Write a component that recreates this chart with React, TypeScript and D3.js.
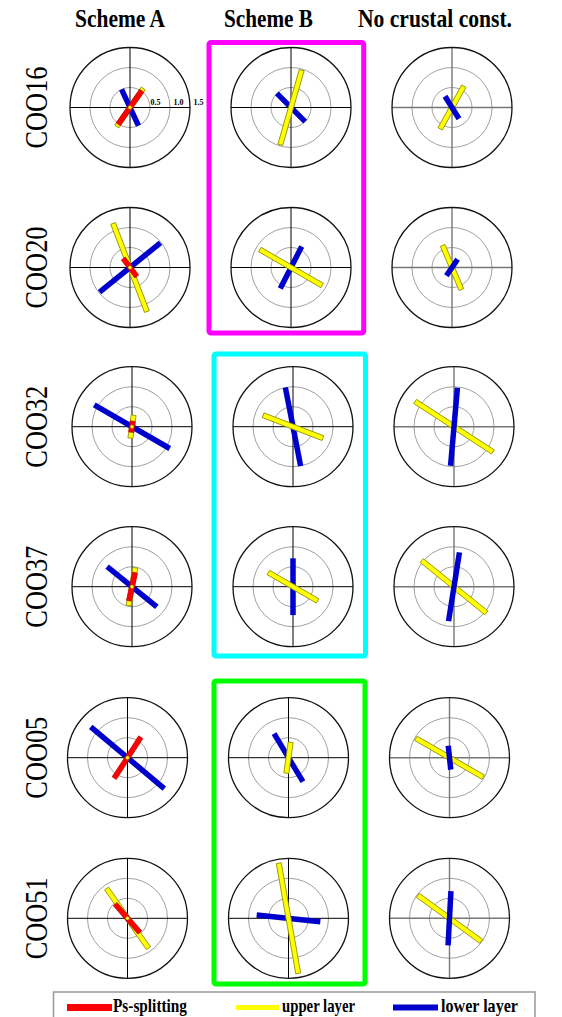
import React from "react";
import * as d3 from "d3";

// Station names (rows) and scheme titles (columns)
const stations = ["COO16", "COO20", "COO32", "COO37", "COO05", "COO51"];
const schemes = ["Scheme A", "Scheme B", "No crustal const."];
const ringTicks = [0.5, 1.0, 1.5];
const ringTickLabels = ["0.5", "1.0", "1.5"];

// Scheme A: Ps-splitting, upper layer and lower layer (fast direction deg from N, delay time s)
const aPsPhi = [35, 143, 8, 12, 33, 139];
const aPsDt = [0.51, 0.28, 0.14, 0.36, 0.61, 0.47];
const aUpperPhi: (number | null)[] = [35, 159, 8, 10, null, 145];
const aUpperDt: (number | null)[] = [0.58, 1.18, 0.29, 0.48, null, 0.91];
const aLowerPhi = [155, 51, 120, 129, 130, 60];
const aLowerDt = [0.5, 0.98, 1.09, 0.8, 1.2, 0.06];

// Scheme B
const bUpperPhi = [16, 120, 111, 120, 8, 170];
const bUpperDt = [0.97, 0.9, 0.8, 0.71, 0.39, 1.4];
const bLowerPhi = [135, 27, 169, 0, 149, 96];
const bLowerDt = [0.5, 0.59, 1.0, 0.71, 0.7, 0.8];

// No crustal constraint
const cUpperPhi = [29, 157, 123, 129, 120, 126];
const cUpperDt = [0.61, 0.6, 1.16, 1.04, 0.97, 0.98];
const cLowerPhi = [148, 34, 5, 9, 174, 3];
const cLowerDt = [0.33, 0.25, 0.98, 0.87, 0.3, 0.68];

const legendLabels = ["Ps-splitting", "upper layer", "lower layer"];

const RED = "#ff0000";
const YELLOW = "#ffff00";
const BLUE = "#0000cd";

const colX = [130, 291, 452];
const groupShift = [0, 0, 2, 2, -2.5, -2.5];
const rowY = [107.5, 267.5, 426.7, 586.7, 757.7, 918.3];

const r = d3.scaleLinear().domain([0, 1.5]).range([0, 60]);

type Bar = { phi: number; dt: number; kind: "ps" | "upper" | "lower" };

function barStyle(kind: Bar["kind"]) {
  if (kind === "ps") return { fill: RED, stroke: "#b00000", sw: 0.6, w: 5 };
  if (kind === "upper") return { fill: YELLOW, stroke: "#8c8c00", sw: 0.8, w: 5 };
  return { fill: BLUE, stroke: "none", sw: 0, w: 5.5 };
}

function SplitBar({ bar }: { bar: Bar }) {
  const L = r(bar.dt);
  const s = barStyle(bar.kind);
  return (
    <rect
      x={-s.w / 2}
      y={-L}
      width={s.w}
      height={2 * L}
      fill={s.fill}
      stroke={s.stroke}
      strokeWidth={s.sw}
      transform={`rotate(${bar.phi})`}
    />
  );
}

function Polar({ cx, cy, col, bars, showTicks }: { cx: number; cy: number; col: number; bars: Bar[]; showTicks: boolean }) {
  const R = r(1.5);
  const crossColor = col === 2 ? "#777" : "#000";
  const crossWidth = col === 2 ? 1.4 : 1;
  return (
    <g transform={`translate(${cx},${cy})`}>
      {ringTicks.slice(0, 2).map((t) => (
        <circle key={t} r={r(t)} fill="none" stroke="#888" strokeWidth={0.8} />
      ))}
      <line x1={-R} x2={R} y1={0} y2={0} stroke={crossColor} strokeWidth={crossWidth} />
      <line x1={0} x2={0} y1={-R} y2={R} stroke={crossColor} strokeWidth={crossWidth} />
      <circle r={R} fill="none" stroke="#111" strokeWidth={1.3} />
      {bars.map((b, i) => (
        <SplitBar key={i} bar={b} />
      ))}
      {col === 0 && <circle r={1.8} fill={YELLOW} stroke="#8c8c00" strokeWidth={0.4} />}
      {showTicks &&
        ringTicks.map((t, i) => (
          <text
            key={t}
            x={r(t) + (i === 0 ? 0.5 : 3.5)}
            y={-3}
            fontFamily="Liberation Serif, serif"
            fontWeight="bold"
            fontSize={8}
            fill="#000"
          >
            {ringTickLabels[i]}
          </text>
        ))}
    </g>
  );
}

export default function App() {
  const cells: React.ReactNode[] = [];
  stations.forEach((_, i) => {
    const y = rowY[i];
    // Scheme A
    const aBars: Bar[] = [];
    if (aUpperPhi[i] !== null) aBars.push({ phi: aUpperPhi[i] as number, dt: aUpperDt[i] as number, kind: "upper" });
    aBars.push({ phi: aLowerPhi[i], dt: aLowerDt[i], kind: "lower" });
    aBars.push({ phi: aPsPhi[i], dt: aPsDt[i], kind: "ps" });
    // Scheme B
    const bBars: Bar[] = [
      { phi: bLowerPhi[i], dt: bLowerDt[i], kind: "lower" },
      { phi: bUpperPhi[i], dt: bUpperDt[i], kind: "upper" },
    ];
    // No crustal constraint
    const cBars: Bar[] = [
      { phi: cUpperPhi[i], dt: cUpperDt[i], kind: "upper" },
      { phi: cLowerPhi[i], dt: cLowerDt[i], kind: "lower" },
    ];
    [aBars, bBars, cBars].forEach((bars, c) => {
      cells.push(
        <Polar key={`${i}-${c}`} cx={colX[c] + groupShift[i]} cy={y} col={c} bars={bars} showTicks={i === 0 && c === 0} />
      );
    });
  });

  const titleX = [[75, 90], [224, 89], [358, 154]];
  const legendItems = [
    { x1: 67, x2: 112, color: RED, w: 7, tx: 113, tl: 74 },
    { x1: 236, x2: 279, color: YELLOW, w: 5, tx: 282, tl: 73 },
    { x1: 393, x2: 438, color: BLUE, w: 6, tx: 441, tl: 77 },
  ];

  return (
    <svg width={562} height={1017} style={{ position: "absolute", left: 0, top: 0, background: "#fff" }}>
      <rect width={562} height={1017} fill="#fff" />
      {schemes.map((s, i) => (
        <text
          key={s}
          x={titleX[i][0]}
          y={27}
          fontFamily="Liberation Serif, serif"
          fontWeight="bold"
          fontSize={25}
          textLength={titleX[i][1]}
          lengthAdjust="spacingAndGlyphs"
        >
          {s}
        </text>
      ))}
      {stations.map((s, i) => (
        <text
          key={s}
          transform={`translate(47,${rowY[i]}) rotate(-90)`}
          textAnchor="middle"
          fontFamily="Liberation Serif, serif"
          fontSize={31}
          textLength={82}
          lengthAdjust="spacingAndGlyphs"
        >
          {s}
        </text>
      ))}
      {/* Highlight boxes around Scheme B groups */}
      <rect x={209} y={42.5} width={154.7} height={290.5} rx={2} fill="none" stroke="#ff00ff" strokeWidth={5} />
      <rect x={214} y={354} width={151.5} height={302} rx={2} fill="none" stroke="#00ffff" strokeWidth={5} />
      <rect x={214} y={681} width={151} height={303} rx={2} fill="none" stroke="#00ff00" strokeWidth={5} />
      {cells}
      {/* Legend */}
      <rect x={53.5} y={992} width={481.5} height={40} fill="#fff" stroke="#999" strokeWidth={1.5} />
      {legendItems.map((l, i) => (
        <g key={i}>
          <line x1={l.x1} x2={l.x2} y1={1007.5} y2={1007.5} stroke={l.color} strokeWidth={l.w} />
          <text
            x={l.tx}
            y={1012}
            fontFamily="Liberation Serif, serif"
            fontWeight="bold"
            fontSize={19}
            textLength={l.tl}
            lengthAdjust="spacingAndGlyphs"
          >
            {legendLabels[i]}
          </text>
        </g>
      ))}
    </svg>
  );
}
